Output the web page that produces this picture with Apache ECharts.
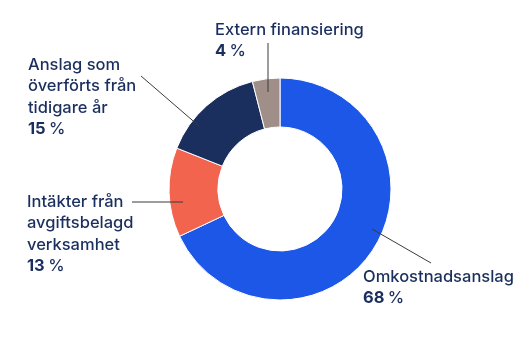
<!DOCTYPE html>
<html><head><meta charset="utf-8">
<script src="https://cdn.jsdelivr.net/npm/echarts@6/dist/echarts.min.js"></script>
<style>html,body{margin:0;padding:0;background:#fff}#c{width:530px;height:355px}</style>
</head><body><div id="c"></div>
<script>
const categories = ['Omkostnadsanslag', 'Intäkter från\navgiftsbelagd\nverksamhet', 'Anslag som\növerförts från\ntidigare år', 'Extern finansiering'];
const values = [68, 13, 15, 4];
const colors = ['#1c57e8', '#f2644e', '#1b2f5e', '#a08f88'];

const cx = 280, cy = 189;
// label text anchor (left, top) and leader line end points, relative to pie centre
const labelPos = [
  {x: 363, y: 266, line: [[372 - cx, 229 - cy], [431 - cx, 263 - cy]]},
  {x: 27, y: 191, line: [[183 - cx, 202 - cy], [132 - cx, 202 - cy]]},
  {x: 28, y: 54, line: [[199 - cx, 126 - cy], [141 - cx, 76 - cy]]},
  {x: 215, y: 19, line: [[268 - cx, 92 - cy], [268 - cx, 43 - cy]]}
];

const chart = echarts.init(document.getElementById('c'));
const fs = 16.5, lh = 21.5, tc = '#1b2f5e';
chart.setOption({
  animation: false,
  textStyle: {fontFamily: 'Inter'},
  series: [{
    type: 'pie',
    z: 2,
    center: [cx, cy],
    radius: [62, 111],
    startAngle: 90,
    clockwise: true,
    label: {show: false},
    labelLine: {show: false},
    itemStyle: {borderColor: '#fff', borderWidth: 1},
    data: categories.map((c, i) => ({name: c, value: values[i], itemStyle: {color: colors[i]}}))
  }, {
    type: 'pie',
    z: 5,
    silent: true,
    center: [cx, cy],
    radius: [62, 111],
    startAngle: 90,
    clockwise: true,
    avoidLabelOverlap: false,
    itemStyle: {color: 'rgba(0,0,0,0)', borderWidth: 0},
    label: {
      show: true,
      formatter: p => '{n|' + p.name.split('\n').join('}\n{n|') + '}\n{v|' + p.value + '} {p|%}',
      rich: {
        n: {fontFamily: 'Inter', fontSize: fs, fontWeight: 500, color: tc, lineHeight: lh},
        v: {fontFamily: 'Inter', fontSize: fs, fontWeight: 'bold', color: tc, lineHeight: lh},
        p: {fontFamily: 'Inter', fontSize: fs, fontWeight: 500, color: tc, lineHeight: lh}
      }
    },
    labelLine: {show: true, lineStyle: {color: '#3a3a3a', width: 1}},
    labelLayout: function (params) {
      const l = labelPos[params.dataIndex];
      const a = [cx + l.line[0][0], cy + l.line[0][1]];
      const b = [cx + l.line[1][0], cy + l.line[1][1]];
      return {
        x: l.x, y: l.y, align: 'left', verticalAlign: 'top',
        labelLinePoints: [a, b, b]
      };
    },
    data: categories.map((c, i) => ({name: c, value: values[i]}))
  }]
});
</script></body></html>
